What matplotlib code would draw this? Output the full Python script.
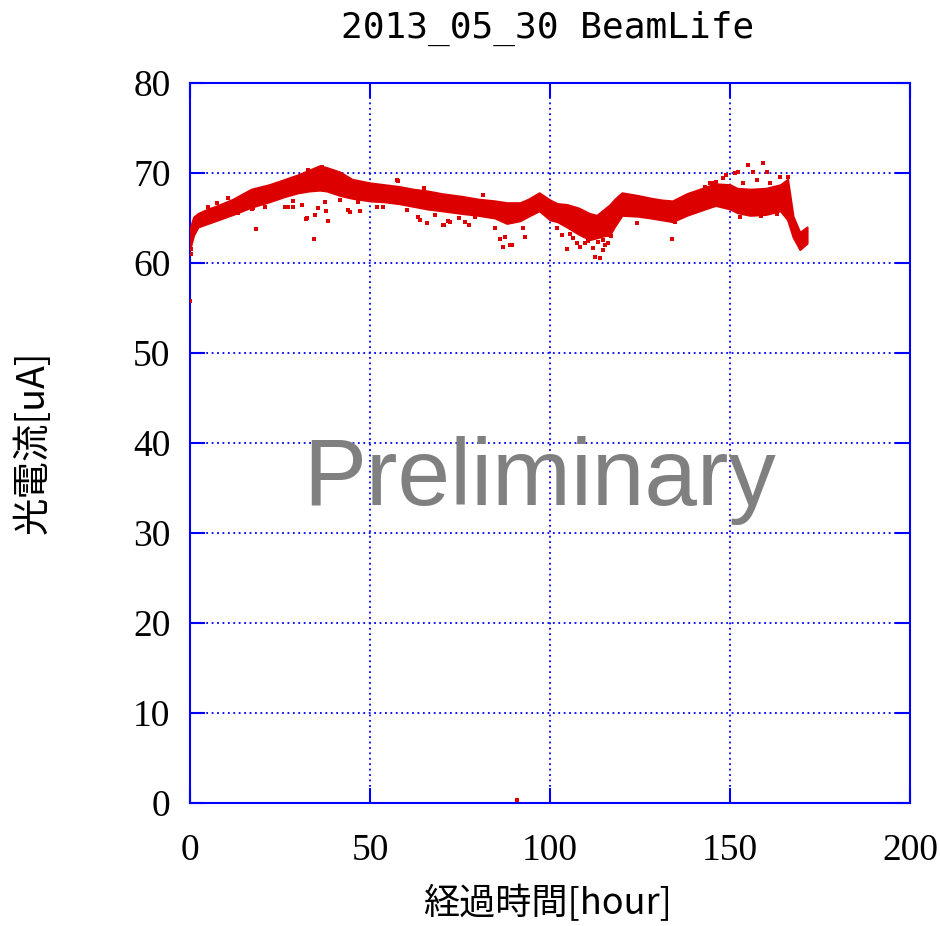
#coding=utf-8
'''beam life plot: photo current vs elapsed time'''
import matplotlib
matplotlib.use('Agg')
import matplotlib.pyplot as plt

TITLE = '2013_05_30 BeamLife'
XLABEL = '経過時間[hour]'
YLABEL = '光電流[uA]'

# main band of the dense data: time [hour], lower / upper current [uA]
band_t = [0, 1, 2.2, 5, 7.8, 12, 17, 22, 26.4, 30, 33, 36, 38, 41.7, 45,
          50, 54, 58, 62, 66, 70, 75.6, 80, 84.7, 88, 91.7, 94, 97, 100,
          102, 104.7, 108, 111, 113, 116.7, 118, 120, 124.4, 128, 131, 134,
          138, 143, 146, 150, 152, 155.6, 160, 164, 166, 167.5, 169.4, 171.4]
band_lo = [61.6, 63.1, 64.0, 64.4, 64.8, 65.4, 66.2, 66.8, 67.4, 67.8, 68.0,
           68.1, 68.0, 67.5, 67.2, 66.9, 66.8, 66.6, 66.3, 66.0, 65.8, 65.5,
           65.3, 65.0, 64.4, 64.7, 65.2, 65.8, 64.8, 64.6, 64.0, 63.2, 62.6,
           62.8, 63.2, 64.1, 65.3, 65.2, 65.0, 64.8, 64.6, 65.3, 66.0, 66.4,
           66.0, 65.6, 65.3, 65.4, 65.8, 64.8, 62.9, 61.5, 62.2]
band_hi = [63.8, 65.1, 65.5, 66.0, 66.4, 67.1, 68.2, 68.7, 69.3, 69.8, 70.3,
           70.8, 70.6, 70.1, 69.3, 68.9, 68.7, 68.5, 68.2, 68.0, 67.7, 67.4,
           67.1, 66.9, 66.7, 66.7, 67.1, 67.8, 67.0, 66.6, 66.5, 66.1, 65.5,
           65.3, 66.5, 67.1, 67.8, 67.5, 67.2, 67.0, 66.9, 67.7, 68.4, 68.8,
           68.7, 68.3, 68.2, 68.3, 68.7, 69.3, 65.2, 63.4, 64.0]

# scattered points off the band
pts_t = [0.1, 0.2, 0.3, 5, 7.5, 10.6, 13.3, 17.2, 17.5, 18.3, 20.8, 26.4,
         27.2, 28.6, 28.6, 31.1, 32.2, 32.5, 32.8, 34.4, 34.7, 35.6, 36.7,
         37.5, 37.8, 38.3, 41.7, 43.9, 44.4, 46.7, 47.2, 52, 53.6, 57.5,
         57.8, 60.3, 63.3, 63.9, 65, 65.8, 68.1, 70.3, 70.6, 71.7, 72.2,
         74.7, 76.4, 77.5, 79.2, 81.4, 84.7, 86, 87, 87.5, 88.9, 89.4, 90.8,
         92.5, 93, 101.9, 103.3, 104.7, 105.5, 106.5, 107.5, 108.3, 109.7,
         110.5, 111.9, 112.5, 113.3, 113.9, 114.7, 114.7, 115.2, 115.8,
         116.1, 117, 124.2, 128.3, 133.9, 134.7, 136.9, 143, 144.4, 145,
         146, 148, 149, 151.5, 152.2, 152.8, 153.6, 155, 156.4, 157.5,
         157.5, 158.5, 159.2, 160.3, 161.1, 162, 163, 163.9, 166.1, 166.7,
         167.2]
pts_v = [55.8, 61.0, 61.6, 66.2, 66.7, 67.2, 65.6, 66.0, 66.1, 63.8, 66.2,
         66.2, 66.2, 66.2, 66.9, 66.4, 64.9, 65.0, 70.3, 62.7, 65.3, 66.1,
         70.7, 66.8, 65.8, 64.7, 67.0, 65.9, 65.7, 66.8, 65.8, 66.2, 66.2,
         69.2, 69.1, 65.9, 65.1, 64.8, 68.3, 64.4, 65.3, 64.2, 64.2, 64.7,
         64.6, 65.0, 64.6, 64.2, 65.1, 67.6, 63.9, 62.7, 61.8, 62.9, 62.0,
         62.0, 0.3, 63.9, 62.9, 63.9, 63.1, 61.6, 63.2, 62.8, 62.2, 61.8,
         62.2, 62.4, 61.7, 60.7, 62.3, 60.6, 61.4, 62.6, 62.0, 63.1, 62.2,
         63.0, 64.4, 65.1, 62.7, 64.6, 65.7, 68.4, 68.9, 68.9, 69.0, 69.4,
         69.8, 70.0, 70.1, 65.1, 68.9, 70.9, 70.1, 69.2, 65.7, 65.2, 71.1,
         70.1, 68.9, 65.9, 65.4, 69.6, 69.6, 65.9, 64.4]

xticks = [0, 50, 100, 150, 200]
yticks = [0, 10, 20, 30, 40, 50, 60, 70, 80]

RED = '#dd0000'
BLUE = '#0000ff'

fig = plt.figure(figsize=(9.4, 9.26), dpi=100)
ax = fig.add_axes([190 / 940, 123 / 926, 720 / 940, 720 / 926])

ax.fill_between(band_t, band_lo, band_hi, color=RED, linewidth=1.5,
                edgecolor=RED, zorder=3)
ax.scatter(pts_t, pts_v, s=7, marker='s', color=RED, linewidths=0, zorder=3)

ax.set_xlim(0, 200)
ax.set_ylim(0, 80)
ax.set_xticks(xticks)
ax.set_yticks(yticks)
ax.grid(True, color=BLUE, linestyle=(0, (1, 2)), linewidth=1.3, zorder=1)
ax.set_axisbelow(True)

for sp in ax.spines.values():
    sp.set_color(BLUE)
    sp.set_linewidth(1.5)
ax.tick_params(direction='in', length=11, width=1.5, color=BLUE,
               top=True, right=True, labelsize=27)
ax.tick_params(axis='y', pad=14)
ax.tick_params(axis='x', pad=22)
for lab in ax.get_xticklabels() + ax.get_yticklabels():
    lab.set_family('Liberation Serif')

fig.text(548 / 940, 1 - 38 / 926, TITLE, ha='center', va='baseline',
         family='DejaVu Sans Mono', fontsize=26)
fig.text(548 / 940, 1 - 914 / 926, XLABEL, ha='center', va='baseline',
         family=['Noto Sans CJK JP', 'DejaVu Sans'], fontsize=26)
fig.text(33 / 940, 1 - 442 / 926, YLABEL, ha='center', va='center',
         rotation=90, family=['Noto Sans CJK JP', 'DejaVu Sans'], fontsize=27)

# watermark
fig.text(540 / 940, 1 - 505 / 926, 'Preliminary', ha='center',
         va='baseline', family='Liberation Sans', fontsize=68,
         color='#808080', zorder=10)

fig.savefig('out.png', dpi=100)
